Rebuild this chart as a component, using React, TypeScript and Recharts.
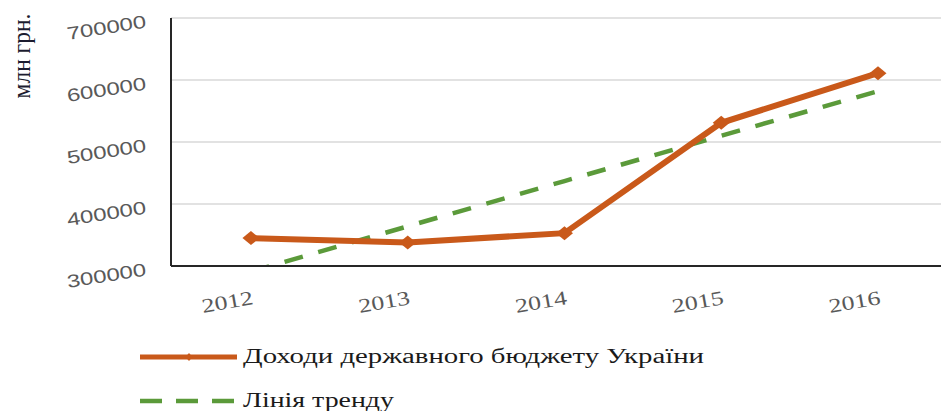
import React from 'react';
import { LineChart, Line, XAxis, YAxis, CartesianGrid, Legend } from 'recharts';

const years = [2012, 2013, 2014, 2015, 2016];
const revenue = [345000, 338000, 353000, 531000, 611000];
const trend = [291000, 364000, 437000, 510000, 582000];
const yTicks = [300000, 400000, 500000, 600000, 700000];
const seriesNames = ['Доходи державного бюджету України', 'Лінія тренду'];
const yAxisTitle = 'млн грн.';

const data = years.map((year, i) => ({ year, revenue: revenue[i], trend: trend[i] }));

const ORANGE = '#C9591A';
const GREEN = '#5B9A3A';
const AXIS = '#262626';
const TICK = '#595959';

const Diamond = (props: any) => {
  const { cx, cy, index } = props;
  if (cx == null || cy == null) return <g key={index} />;
  return (
    <path
      key={index}
      d={`M${cx - 8.5},${cy}L${cx},${cy - 7}L${cx + 8.5},${cy}L${cx},${cy + 7}Z`}
      fill={ORANGE}
    />
  );
};

const YTick = (props: any) => {
  const { y, payload } = props;
  return (
    <g transform={`translate(146,${y + 3.5}) rotate(-9)`}>
      <text
        x={0}
        y={0}
        textAnchor="end"
        dominantBaseline="central"
        fontFamily="'Liberation Sans', Arial, sans-serif"
        fontSize={18}
        fill={TICK}
        textLength={80}
        lengthAdjust="spacingAndGlyphs"
      >
        {String(payload.value)}
      </text>
    </g>
  );
};

const XTick = (props: any) => {
  const { x, payload } = props;
  return (
    <g transform={`translate(${x + 2},${297}) rotate(-10)`}>
      <text
        x={0}
        y={0}
        textAnchor="end"
        dominantBaseline="central"
        fontFamily="'Liberation Serif', 'Times New Roman', serif"
        fontSize={20}
        fill={TICK}
        textLength={52}
        lengthAdjust="spacingAndGlyphs"
      >
        {String(payload.value)}
      </text>
    </g>
  );
};

const YTitle = () => (
  <text
    transform="translate(21,56) rotate(-90) scale(1,1.4)"
    textAnchor="middle"
    dominantBaseline="central"
    fontFamily="'Liberation Serif', 'Times New Roman', serif"
    fontSize={18}
    fill="#1c1c30"
    textLength={85}
    lengthAdjust="spacingAndGlyphs"
  >
    {yAxisTitle}
  </text>
);

const renderLegend = () => (
  <svg width={941} height={81} style={{ display: 'block' }}>
    <line x1={140} y1={27} x2={237} y2={27} stroke={ORANGE} strokeWidth={5} />
    <path d="M189,23L192.5,27L189,31L185.5,27Z" fill={ORANGE} />
    <text
      x={243}
      y={33}
      fontFamily="'Liberation Serif', 'Times New Roman', serif"
      fontSize={20}
      fill="#1a1a1a"
      textLength={461}
      lengthAdjust="spacingAndGlyphs"
    >
      {seriesNames[0]}
    </text>
    <line
      x1={140}
      y1={71}
      x2={236}
      y2={71}
      stroke={GREEN}
      strokeWidth={4.5}
      strokeDasharray="22 14"
    />
    <text
      x={243}
      y={77}
      fontFamily="'Liberation Serif', 'Times New Roman', serif"
      fontSize={20}
      fill="#1a1a1a"
      textLength={151}
      lengthAdjust="spacingAndGlyphs"
    >
      {seriesNames[1]}
    </text>
  </svg>
);

export default function App() {
  return (
    <div style={{ position: 'absolute', left: 0, top: 0, width: 941, height: 411, background: '#fff' }}>
      <LineChart
        width={941}
        height={411}
        data={data}
        margin={{ top: 18, right: 0, bottom: 115, left: 0 }}
      >
        <CartesianGrid vertical={false} stroke="#D9D9D9" strokeWidth={1.5} />
        <XAxis
          dataKey="year"
          type="number"
          domain={[2011.49, 2016.402]}
          ticks={years}
          allowDataOverflow
          height={30}
          axisLine={{ stroke: AXIS, strokeWidth: 2 }}
          tickLine={false}
          tick={<XTick />}
          interval={0}
        />
        <YAxis
          width={171}
          domain={[300000, 700000]}
          ticks={yTicks}
          allowDataOverflow
          axisLine={{ stroke: AXIS, strokeWidth: 2 }}
          tickLine={false}
          tick={<YTick />}
          interval={0}
          label={<YTitle />}
        />
        <Legend
          layout="vertical"
          align="center"
          verticalAlign="middle"
          content={renderLegend}
          wrapperStyle={{ left: 0, top: 330, width: 941, height: 81 }}
        />
        <Line
          dataKey="trend"
          name={seriesNames[1]}
          stroke={GREEN}
          strokeWidth={4.5}
          strokeDasharray="19 16"
          dot={false}
          activeDot={false}
          isAnimationActive={false}
        />
        <Line
          dataKey="revenue"
          name={seriesNames[0]}
          stroke={ORANGE}
          strokeWidth={6}
          dot={<Diamond />}
          activeDot={false}
          isAnimationActive={false}
        />
      </LineChart>
    </div>
  );
}
